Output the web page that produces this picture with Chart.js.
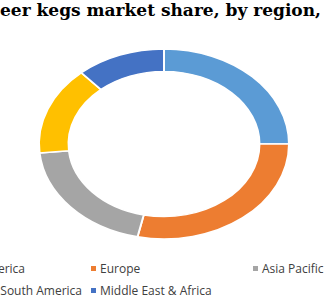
<!DOCTYPE html>
<html>
<head>
<meta charset="utf-8">
<script src="https://cdn.jsdelivr.net/npm/chart.js@4.4.1/dist/chart.umd.min.js"></script>
<style>
  html, body { margin: 0; padding: 0; background: #fff; }
  #wrap { position: relative; width: 324px; height: 300px; overflow: hidden; }
  #title {
    position: absolute; top: 0; left: 0; white-space: nowrap; transform-origin: 0 0;
    font: bold 17px "DejaVu Serif", serif; color: #000; line-height: 21px;
  }
  #chartBox { position: absolute; left: 0; top: 40px; width: 324px; height: 210px; }
  .item {
    position: absolute; white-space: nowrap; display: flex; align-items: center;
    font: 12px "Open Sans", sans-serif; color: #404040; height: 16px;
  }
  .item i { display: inline-block; width: 5px; height: 5px; margin-right: 4px; }
</style>
</head>
<body>
<div id="wrap">
  <div id="title"></div>
  <div id="chartBox"><canvas id="donut" width="324" height="210"></canvas></div>
</div>
<script>
const titleText = 'Beer kegs market share, by region, 2021 (%)';
const regions = ['North America', 'Europe', 'Asia Pacific', 'South America', 'Middle East & Africa'];
const shares = [25, 28.4, 20.1, 15, 11.5];
const colors = ['#5B9BD5', '#ED7D31', '#A5A5A5', '#FFC000', '#4472C4'];

// title: the original is cropped, "B" is cut off on the left and "region," ends near x=321
const titleEl = document.getElementById('title');
titleEl.textContent = titleText;
const mc = document.createElement('canvas').getContext('2d');
mc.font = 'bold 17px "DejaVu Serif"';
const wB = mc.measureText('B').width;
const wVisible = mc.measureText('Beer kegs market share, by region,').width - wB;
const sx = 321 / wVisible;
titleEl.style.transform = 'translateX(' + (-wB * sx) + 'px) scaleX(' + sx + ')';

// horizontal stretch so the ring comes out oval like the original
const stretchX = 125 / 95;
const ovalPlugin = {
  id: 'oval',
  beforeDatasetsDraw(chart) {
    const arc = chart.getDatasetMeta(0).data[0];
    const ctx = chart.ctx;
    ctx.save();
    ctx.translate(arc.x, arc.y);
    ctx.scale(stretchX, 1);
    ctx.translate(-arc.x, -arc.y);
  },
  afterDatasetsDraw(chart) {
    chart.ctx.restore();
  }
};

new Chart(document.getElementById('donut'), {
  type: 'doughnut',
  data: {
    labels: regions,
    datasets: [{
      data: shares,
      backgroundColor: colors,
      borderColor: '#ffffff',
      borderWidth: 1.5,
      radius: 95,
      cutout: 72
    }]
  },
  options: {
    responsive: false,
    animation: false,
    layout: { padding: { left: 4, right: 0, top: 9, bottom: 11 } },
    plugins: {
      legend: { display: false },
      title: { display: false },
      tooltip: { enabled: false }
    }
  },
  plugins: [ovalPlugin]
});

// legend, laid out like the original (some items cut at the edges)
// endX: where the text ends, for items whose start is off the picture
const legendSpots = [
  { endX: 25, top: 260 },
  { left: 91, top: 260 },
  { left: 253, top: 260 },
  { endX: 82, top: 282 },
  { left: 91, top: 282 }
];
const wrap = document.getElementById('wrap');
regions.forEach((name, i) => {
  const el = document.createElement('div');
  el.className = 'item';
  el.innerHTML = '<i style="background:' + colors[i] + '"></i><span></span>';
  el.querySelector('span').textContent = name;
  const spot = legendSpots[i];
  el.style.top = spot.top + 'px';
  if (spot.left !== undefined) el.style.left = spot.left + 'px';
  else el.style.right = (324 - spot.endX) + 'px';
  wrap.appendChild(el);
});
</script>
</body>
</html>
